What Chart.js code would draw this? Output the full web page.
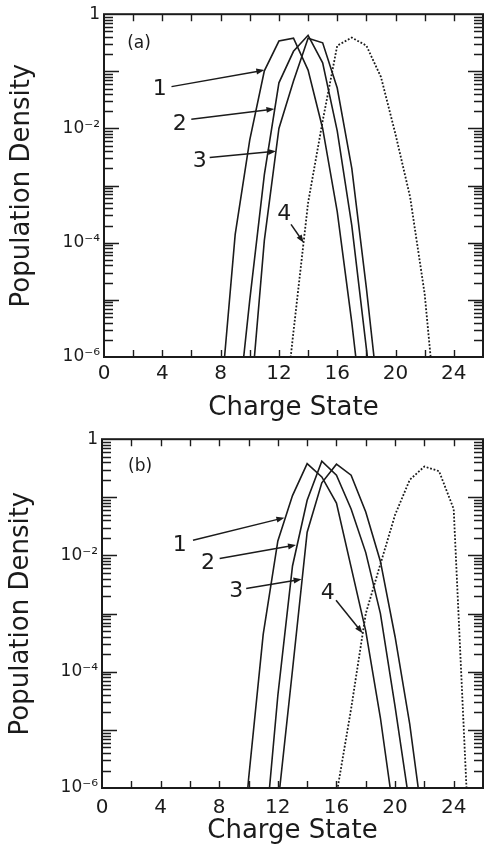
<!DOCTYPE html>
<html>
<head>
<meta charset="utf-8">
<title>Population density vs charge state</title>
<script src="https://cdn.jsdelivr.net/npm/chart.js@4.4.1/dist/chart.umd.min.js"></script>
<style>
  html, body { margin: 0; padding: 0; background: #fff; }
  body { position: relative; width: 489px; height: 857px; overflow: hidden; }
  canvas { position: absolute; left: 0; }
  #chartA { top: 0; }
  #chartB { top: 425px; }
</style>
</head>
<body>
<canvas id="chartA" width="489" height="425"></canvas>
<canvas id="chartB" width="489" height="432"></canvas>
<script>
// ------------------------------------------------------------
// Data (population density per charge state)
// ------------------------------------------------------------
const xTickValues = [0, 4, 8, 12, 16, 20, 24];
const yTickValues = [1e-6, 1e-4, 1e-2, 1];
const yTickLabels = ['10⁻⁶', '10⁻⁴', '10⁻²', '1'];

// panel (a)
const chargeA1  = [8, 9, 10, 11, 12, 13, 14, 15, 16, 17, 18];
const densityA1 = [1.6e-7, 1.4e-4, 6.3e-3, 0.102, 0.339, 0.380, 0.105, 0.010, 3.5e-4, 4.0e-6, 2.5e-8];
const chargeA2  = [9, 10, 11, 12, 13, 14, 15, 16, 17, 18, 19];
const densityA2 = [4.0e-8, 1.0e-5, 1.55e-3, 0.063, 0.224, 0.427, 0.141, 9.1e-3, 2.0e-4, 1.4e-6, 1.0e-8];
const chargeA3  = [10, 11, 12, 13, 14, 15, 16, 17, 18, 19];
const densityA3 = [1.1e-7, 1.1e-4, 0.010, 0.068, 0.380, 0.316, 0.051, 2.0e-3, 1.6e-5, 7.9e-8];
const chargeA4  = [12, 13, 14, 15, 16, 17, 18, 19, 20, 21, 22, 23];
const densityA4 = [1.3e-8, 2.8e-6, 5.0e-4, 0.0135, 0.282, 0.389, 0.282, 0.0794, 7.9e-3, 6.3e-4, 1.26e-5, 2.5e-8];

// panel (b)
const chargeB1  = [9, 10, 11, 12, 13, 14, 15, 16, 17, 18, 19, 20];
const densityB1 = [1.6e-9, 1.4e-6, 4.4e-4, 0.0178, 0.107, 0.380, 0.224, 0.0794, 6.3e-3, 5.0e-4, 1.6e-5, 2.5e-7];
const chargeB2  = [11, 12, 13, 14, 15, 16, 17, 18, 19, 20, 21];
const densityB2 = [6.3e-8, 3.9e-5, 6.6e-3, 0.089, 0.417, 0.240, 0.063, 0.0112, 1.0e-3, 2.5e-5, 5.0e-7];
const chargeB3  = [12, 13, 14, 15, 16, 17, 18, 19, 20, 21, 22];
const densityB3 = [5.0e-7, 1.07e-4, 0.0251, 0.178, 0.372, 0.240, 0.056, 7.9e-3, 4.0e-4, 1.26e-5, 1.6e-7];
const chargeB4  = [15, 16, 17, 18, 19, 20, 21, 22, 23, 24, 25];
const densityB4 = [1.0e-8, 7.6e-7, 2.3e-5, 1.0e-3, 7.1e-3, 0.050, 0.200, 0.339, 0.282, 0.063, 2.0e-7];

// curve labels: text position, arrow start, arrow tip (data units)
const notesA = [
  { text: '1', at: [3.83, 0.049],  from: [4.63, 0.054],  to: [11.0, 0.105] },
  { text: '2', at: [5.19, 0.0117], from: [5.99, 0.0145], to: [11.69, 0.022] },
  { text: '3', at: [6.56, 2.7e-3], from: [7.25, 3.1e-3], to: [11.8, 4.0e-3] },
  { text: '4', at: [12.37, 3.2e-4], from: [12.83, 2.1e-4], to: [13.7, 1.0e-4] }
];
const notesB = [
  { text: '1', at: [5.31, 0.0151], from: [6.21, 0.0182], to: [12.45, 0.0447] },
  { text: '2', at: [7.23, 7.2e-3], from: [8.03, 8.9e-3], to: [13.24, 0.0151] },
  { text: '3', at: [9.16, 2.4e-3], from: [9.84, 2.7e-3], to: [13.62, 3.9e-3] },
  { text: '4', at: [15.4, 2.2e-3], from: [15.97, 1.7e-3], to: [17.78, 4.6e-4] }
];

// ------------------------------------------------------------
// Styling
// ------------------------------------------------------------
const INK = '#1b1b1b';
const FONT = '"DejaVu Sans", sans-serif';

const toPoints = (xs, ys) => xs.map((c, i) => ({ x: c, y: ys[i] }));

function lineSet(xs, ys, dotted) {
  return {
    data: toPoints(xs, ys),
    borderColor: INK,
    borderWidth: dotted ? 1.8 : 1.6,
    borderDash: dotted ? [1.8, 1.8] : [],
    pointRadius: 0,
    tension: 0,
    fill: false
  };
}

// frame, inward ticks, panel tag and numbered arrows
const figurePlugin = {
  id: 'figure',
  afterDatasetsDraw(chart, args, opts) {
    const { ctx, chartArea: a } = chart;
    const x = chart.scales.x, y = chart.scales.y;
    ctx.save();
    ctx.strokeStyle = INK;
    ctx.fillStyle = INK;

    // x ticks (every 2), bottom and top
    ctx.lineWidth = 1.4;
    ctx.beginPath();
    for (let c = 2; c < 26; c += 2) {
      const px = Math.round(x.getPixelForValue(c)) + 0.5;
      ctx.moveTo(px, a.bottom); ctx.lineTo(px, a.bottom - 7);
      ctx.moveTo(px, a.top);    ctx.lineTo(px, a.top + 7);
    }
    // log ticks, left and right
    for (let d = -6; d < 0; d++) {
      for (let m = 1; m <= 9; m++) {
        if (d === -6 && m === 1) continue;
        const py = Math.round(y.getPixelForValue(m * Math.pow(10, d))) + 0.5;
        const len = m === 1 ? 15 : 9;
        ctx.moveTo(a.left, py);  ctx.lineTo(a.left + len, py);
        ctx.moveTo(a.right, py); ctx.lineTo(a.right - len, py);
      }
    }
    ctx.stroke();

    // frame
    ctx.lineWidth = 2;
    ctx.strokeRect(a.left, a.top, a.right - a.left, a.bottom - a.top);

    // panel tag
    ctx.font = '17px ' + FONT;
    ctx.textAlign = 'center';
    ctx.textBaseline = 'middle';
    ctx.fillText(opts.tag, x.getPixelForValue(opts.tagAt[0]), y.getPixelForValue(opts.tagAt[1]));

    // numbered labels with arrows
    ctx.font = '22px ' + FONT;
    ctx.lineWidth = 1.5;
    opts.notes.forEach(n => {
      ctx.fillText(n.text, x.getPixelForValue(n.at[0]), y.getPixelForValue(n.at[1]));
      const x0 = x.getPixelForValue(n.from[0]), y0 = y.getPixelForValue(n.from[1]);
      const x1 = x.getPixelForValue(n.to[0]),   y1 = y.getPixelForValue(n.to[1]);
      const ang = Math.atan2(y1 - y0, x1 - x0);
      ctx.beginPath();
      ctx.moveTo(x0, y0);
      ctx.lineTo(x1 - 6 * Math.cos(ang), y1 - 6 * Math.sin(ang));
      ctx.stroke();
      ctx.beginPath();
      ctx.moveTo(x1, y1);
      ctx.lineTo(x1 - 8 * Math.cos(ang) + 3 * Math.sin(ang), y1 - 8 * Math.sin(ang) - 3 * Math.cos(ang));
      ctx.lineTo(x1 - 8 * Math.cos(ang) - 3 * Math.sin(ang), y1 - 8 * Math.sin(ang) + 3 * Math.cos(ang));
      ctx.closePath();
      ctx.fill();
    });
    ctx.restore();
  }
};

function renderPanel(cfg) {
  return new Chart(document.getElementById(cfg.canvasId), {
    type: 'line',
    data: { datasets: cfg.datasets },
    plugins: [figurePlugin],
    options: {
      responsive: false,
      animation: false,
      layout: { padding: { top: cfg.padTop, right: 6, bottom: 0, left: 0 } },
      plugins: {
        legend: { display: false },
        tooltip: { enabled: false },
        figure: { tag: cfg.tag, tagAt: cfg.tagAt, notes: cfg.notes }
      },
      scales: {
        x: {
          type: 'linear',
          min: 0,
          max: 26,
          afterBuildTicks: s => { s.ticks = xTickValues.map(v => ({ value: v })); },
          afterFit: s => { s.height = cfg.xAxisHeight; },
          grid: { display: false, drawTicks: false },
          border: { display: false },
          ticks: {
            color: INK,
            padding: cfg.xTickPad,
            maxRotation: 0,
            font: { family: FONT, size: 20 }
          },
          title: {
            display: true,
            text: 'Charge State',
            color: INK,
            font: { family: FONT, size: 26 },
            padding: { top: 0, bottom: cfg.xTitlePad }
          }
        },
        y: {
          type: 'logarithmic',
          min: 1e-6,
          max: 1,
          afterBuildTicks: s => { s.ticks = yTickValues.map(v => ({ value: v })); },
          afterFit: s => { s.width = cfg.yAxisWidth; },
          grid: { display: false, drawTicks: false },
          border: { display: false },
          ticks: {
            color: INK,
            padding: 4,
            font: { family: FONT, size: 17 },
            callback: v => {
              const i = yTickValues.findIndex(t => Math.abs(Math.log10(t) - Math.log10(v)) < 1e-6);
              return i >= 0 ? yTickLabels[i] : '';
            }
          },
          title: {
            display: true,
            text: 'Population Density',
            color: INK,
            font: { family: FONT, size: 26 },
            padding: { top: cfg.yTitlePad, bottom: 0 }
          }
        }
      }
    }
  });
}

renderPanel({
  canvasId: 'chartA',
  datasets: [
    lineSet(chargeA1, densityA1, false),
    lineSet(chargeA2, densityA2, false),
    lineSet(chargeA3, densityA3, false),
    lineSet(chargeA4, densityA4, true)
  ],
  notes: notesA,
  tag: '(a)', tagAt: [2.4, 0.30],
  padTop: 13, yAxisWidth: 104, xAxisHeight: 68,
  xTickPad: 5, xTitlePad: 1, yTitlePad: 7
});

renderPanel({
  canvasId: 'chartB',
  datasets: [
    lineSet(chargeB1, densityB1, false),
    lineSet(chargeB2, densityB2, false),
    lineSet(chargeB3, densityB3, false),
    lineSet(chargeB4, densityB4, true)
  ],
  notes: notesB,
  tag: '(b)', tagAt: [2.6, 0.34],
  padTop: 14, yAxisWidth: 102, xAxisHeight: 69,
  xTickPad: 8, xTitlePad: 10, yTitlePad: 6
});
</script>
</body>
</html>
